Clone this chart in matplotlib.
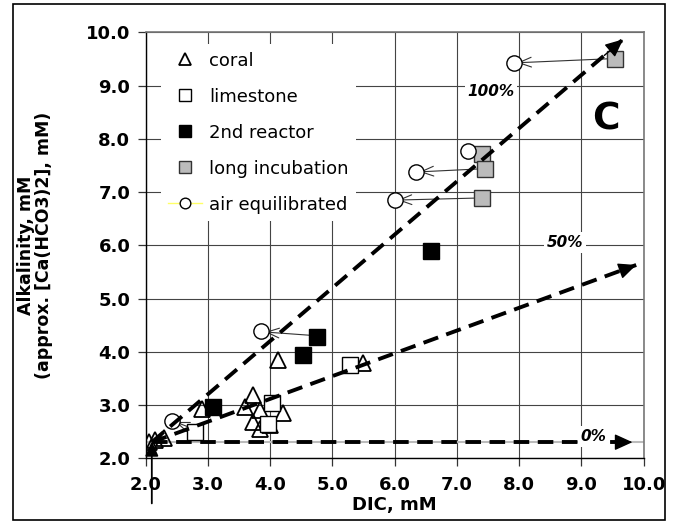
import matplotlib
matplotlib.use("Agg")
import matplotlib.pyplot as plt
from matplotlib.patches import Rectangle

plt.rcParams['font.family'] = ['DejaVu Sans']

# coral (open triangles)
coral_x = [2.05, 2.15, 2.3, 2.9, 3.6, 3.72, 3.84, 3.73, 3.84, 4.0, 4.2, 4.12, 5.5]
coral_y = [2.3, 2.35, 2.38, 2.92, 2.97, 3.18, 2.9, 2.68, 2.55, 2.62, 2.84, 3.85, 3.78]
# limestone (open squares)
lime_x = [2.79, 4.03, 3.97, 5.28]
lime_y = [2.5, 3.03, 2.65, 3.75]
# 2nd reactor (black squares)
reac_x = [3.09, 4.53, 4.75, 6.59]
reac_y = [2.96, 3.94, 4.27, 5.9]
# long incubation (grey squares)
long_x = [7.4, 7.45, 7.4, 9.54]
long_y = [7.71, 7.44, 6.89, 9.51]
# air equilibrated (open circles)
air_x = [7.92, 7.18, 6.35, 6.0, 3.85, 2.43]
air_y = [9.43, 7.77, 7.38, 6.85, 4.39, 2.7]

# thin arrows: sample -> air equilibrated
eq_from = [(9.54, 9.51), (7.45, 7.44), (7.4, 6.89), (4.75, 4.3), (2.88, 2.5)]
eq_to = [(7.97, 9.43), (6.4, 7.38), (6.05, 6.85), (3.92, 4.37), (2.48, 2.68)]

# dashed theoretical lines (start -> end)
origin = (2.1, 2.3)
line_ends = {'0%': (9.82, 2.3), '50%': (9.88, 5.63), '100%': (9.67, 9.87)}
line_labels = {'0%': (9.2, 2.41), '50%': (8.73, 6.05), '100%': (7.55, 8.89)}

fig = plt.figure(figsize=(6.74, 5.23), dpi=100)
ax = fig.add_axes([0.216, 0.124, 0.739, 0.814])

ax.set_xlim(2.0, 10.0)
ax.set_ylim(2.0, 10.0)
ticks = [2.0, 3.0, 4.0, 5.0, 6.0, 7.0, 8.0, 9.0, 10.0]
ax.set_xticks(ticks)
ax.set_yticks(ticks)
ax.set_xticklabels(['%.1f' % t for t in ticks], fontweight='bold', fontsize=13)
ax.set_yticklabels(['%.1f' % t for t in ticks], fontweight='bold', fontsize=13)
ax.tick_params(axis='both', direction='out', length=6, width=0.9, color='#333333')
ax.tick_params(axis='y', pad=5)
ax.tick_params(axis='x', pad=7)
ax.grid(True, color='#444444', linewidth=0.8)
ax.set_axisbelow(True)
for side in ['left', 'bottom']:
    ax.spines[side].set_color('black')
    ax.spines[side].set_linewidth(1.0)
for side in ['top', 'right']:
    ax.spines[side].set_color('#777777')
    ax.spines[side].set_linewidth(1.2)

ax.set_xlabel('DIC, mM', fontweight='bold', fontsize=13, labelpad=1)
ax.set_ylabel('Alkalinity, mM\n(approx. [Ca(HCO3)2], mM)', fontweight='bold',
              fontsize=12.5, linespacing=1.0)
ax.yaxis.set_label_coords(-0.185, 0.5)

# grey line under the 0% line
ax.plot([2.0, 10.0], [2.3, 2.3], color='#bbbbbb', lw=1.5, zorder=1.5)

# dashed arrows: dashed shaft plus a solid head
for k, end in line_ends.items():
    ax.plot([origin[0], end[0]], [origin[1], end[1]], color='black', lw=2.8,
            dashes=(4.0, 2.2), zorder=4)
    dx, dy = end[0] - origin[0], end[1] - origin[1]
    pre = (end[0] - 0.04 * dx, end[1] - 0.04 * dy)
    ax.annotate('', xy=end, xytext=pre,
                arrowprops=dict(arrowstyle='-|>,head_length=1.1,head_width=0.5',
                                lw=1, color='black', shrinkA=0, shrinkB=0), zorder=4)
for k, pos in line_labels.items():
    ax.text(pos[0], pos[1], k, fontsize=11, fontweight='bold', style='italic',
            ha='center', va='center', zorder=5,
            bbox=dict(facecolor='white', edgecolor='none', pad=2))

# vertical arrow at start
ax.annotate('', xy=(2.1, 2.32), xytext=(2.1, 1.15),
            arrowprops=dict(arrowstyle='-|>,head_length=0.9,head_width=0.4',
                            lw=1.3, color='black', shrinkA=0, shrinkB=0),
            annotation_clip=False, zorder=6)

# thin arrows to air equilibrated
for a, b in zip(eq_from, eq_to):
    ax.annotate('', xy=b, xytext=a,
                arrowprops=dict(arrowstyle='->,head_length=0.9,head_width=0.35',
                                lw=0.8, color='#333333', shrinkA=0, shrinkB=0), zorder=3)

ms = 11
ax.plot(coral_x, coral_y, '^', ms=ms, mfc='none', mec='black', mew=1.3, ls='none',
        label='coral', zorder=3)
ax.plot(lime_x, lime_y, 's', ms=ms, mfc='white', mec='black', mew=1.0, ls='none',
        label='limestone', zorder=3)
ax.plot(reac_x, reac_y, 's', ms=ms, mfc='black', mec='black', ls='none',
        label='2nd reactor', zorder=3)
ax.plot(long_x, long_y, 's', ms=ms, mfc='#bbbbbb', mec='#333333', mew=1.0, ls='none',
        label='long incubation', zorder=3)
ax.plot(air_x, air_y, 'o', ms=ms, mfc='white', mec='black', mew=1.0, ls='none',
        zorder=3)
# legend proxy for air equilibrated with yellow line
ax.plot([], [], '-o', color='#ffff66', lw=1, ms=9, mfc='white',
        mec='black', label='air equilibrated')

ax.text(9.4, 8.37, 'C', fontsize=27, fontweight='bold', ha='center', va='center')

leg = ax.legend(loc='upper left', bbox_to_anchor=(0.03, 0.972), frameon=True,
                fontsize=13, handlelength=1.9, labelspacing=1.0, markerscale=0.85,
                borderpad=0.4, handletextpad=0.4, borderaxespad=0)
leg.get_frame().set_facecolor('white')
leg.get_frame().set_edgecolor('none')
leg.get_frame().set_alpha(1)

# outer frame
fig.patches.append(Rectangle((0.019, 0.006), 0.967, 0.986, transform=fig.transFigure,
                             fill=False, edgecolor='black', lw=1.2))

fig.savefig('out.png', dpi=100)
